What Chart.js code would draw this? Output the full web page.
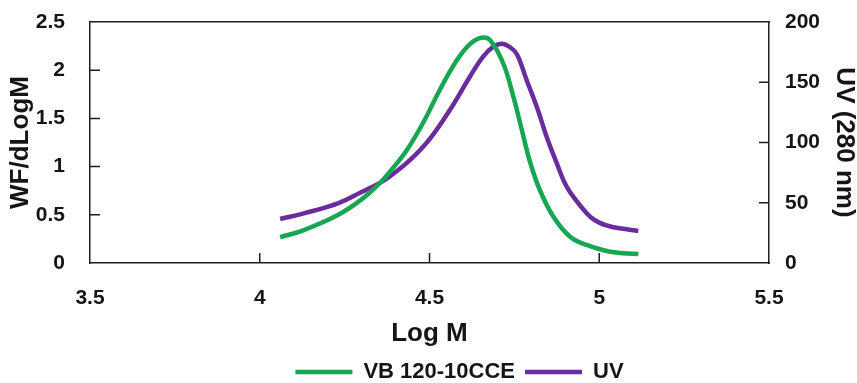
<!DOCTYPE html>
<html>
<head>
<meta charset="utf-8">
<script src="https://cdn.jsdelivr.net/npm/chart.js@4.4.1/dist/chart.umd.min.js"></script>
<style>
  html, body { margin: 0; padding: 0; background: #fff; }
  #wrap { width: 857px; height: 383px; position: relative; }
</style>
</head>
<body>
<div id="wrap"><canvas id="gpc"></canvas></div>
<script>
    // ======== Data ========
    const seriesNames = ['VB 120-10CCE', 'UV'];

    // WF/dLogM curve (left axis)
    const logM_vb = [4.06, 4.13, 4.23, 4.30, 4.354, 4.384, 4.433, 4.482, 4.531, 4.580, 4.619, 4.652,
                     4.678, 4.717, 4.747, 4.772, 4.796, 4.825, 4.865, 4.914, 4.963, 5.032, 5.115];
    const wf_vb   = [0.267, 0.342, 0.498, 0.66, 0.83, 0.95, 1.17, 1.46, 1.80, 2.10, 2.27, 2.337,
                     2.313, 2.072, 1.725, 1.380, 1.05, 0.757, 0.480, 0.273, 0.187, 0.117, 0.093];

    // UV 280 nm curve (right axis)
    const logM_uv = [4.06, 4.13, 4.23, 4.30, 4.354, 4.384, 4.443, 4.501, 4.560, 4.619, 4.658, 4.688,
                     4.713, 4.735, 4.757, 4.786, 4.816, 4.845, 4.875, 4.904, 4.95, 4.975, 5.00, 5.03, 5.06, 5.115];
    const uv_280  = [36.5, 41.2, 49.5, 59, 66.5, 72, 85.5, 103, 127, 154.6, 171.2, 179.5,
                     182, 179.5, 173.5, 151.9, 129.7, 104.8, 82.7, 63.3, 45.5, 38, 33.5, 30.5, 28.8, 26.6];

    // axis ranges [min, max, step]
    const xRange = [3.5, 5.5, 0.5];
    const yLeftRange = [0, 2.5, 0.5];
    const yRightRange = [0, 200, 50];

    // ======== Helpers ========
    const FONT = "'Liberation Sans', Arial, Helvetica, sans-serif";
    const INK = '#151515';
    const AXIS = '#1e1e1e';
    const pts = (xs, ys) => xs.map((x, i) => ({ x: x, y: ys[i] }));
    const fmt = v => String(+v.toFixed(2));
    const tickFont = { family: FONT, size: 21, weight: 'bold', lineHeight: 1 };
    const titleFont = { family: FONT, size: 26, weight: 'bold', lineHeight: 1 };

    // short tick marks pointing into the plot box (Chart.js only draws them outward)
    const innerTicks = {
      id: 'innerTicks',
      afterDraw(chart) {
        const c = chart.ctx, a = chart.chartArea, len = 10;
        c.save();
        c.strokeStyle = AXIS;
        c.lineWidth = 1.5;
        c.beginPath();
        chart.scales.x.ticks.forEach(t => {
          const px = chart.scales.x.getPixelForValue(t.value);
          if (px <= a.left + 1 || px >= a.right - 1) return;
          c.moveTo(px, a.bottom); c.lineTo(px, a.bottom - len);
        });
        chart.scales.y.ticks.forEach(t => {
          const py = chart.scales.y.getPixelForValue(t.value);
          if (py <= a.top + 1 || py >= a.bottom - 1) return;
          c.moveTo(a.left, py); c.lineTo(a.left + len, py);
        });
        chart.scales.y1.ticks.forEach(t => {
          const py = chart.scales.y1.getPixelForValue(t.value);
          if (py <= a.top + 1 || py >= a.bottom - 1) return;
          c.moveTo(a.right, py); c.lineTo(a.right - len, py);
        });
        c.stroke();
        c.restore();
      }
    };

    // push the legend a little right, as in the source figure
    const legendShift = {
      id: 'legendShift',
      afterLayout(chart) {
        chart.legend.left += 31;
        chart.legend.right += 31;
      }
    };

    const ctx = document.getElementById('gpc').getContext('2d');
    const chart = new Chart(ctx, {
      type: 'line',
      data: {
        datasets: [
          {
            label: seriesNames[0],
            data: pts(logM_vb, wf_vb),
            yAxisID: 'y',
            borderColor: '#17a651',
            backgroundColor: '#17a651',
            borderWidth: 4.5,
            pointRadius: 0,
            tension: 0.4,
            fill: false
          },
          {
            label: seriesNames[1],
            data: pts(logM_uv, uv_280),
            yAxisID: 'y1',
            borderColor: '#6a2c9c',
            backgroundColor: '#6a2c9c',
            borderWidth: 4.5,
            pointRadius: 0,
            tension: 0.4,
            fill: false
          }
        ]
      },
      options: {
        responsive: true,
        maintainAspectRatio: false,
        animation: false,
        layout: { padding: { top: 22, left: 0, right: 0, bottom: -10 } },
        plugins: {
          tooltip: { enabled: false },
          legend: {
            position: 'bottom',
            labels: {
              usePointStyle: true,
              pointStyle: 'line',
              pointStyleWidth: 57,
              padding: 10,
              color: INK,
              font: { family: FONT, size: 22, weight: 'bold' }
            }
          }
        },
        scales: {
          x: {
            type: 'linear',
            position: 'bottom',
            min: xRange[0], max: xRange[1],
            ticks: { stepSize: xRange[2], padding: 25, color: INK, font: tickFont, callback: fmt },
            grid: { drawOnChartArea: false, drawTicks: false },
            border: { color: AXIS, width: 1.5 },
            title: {
              display: true, text: 'Log M', color: INK, font: titleFont,
              padding: { top: 0, bottom: 4 }
            },
            afterFit: s => { s.height = 88; s.paddingLeft = 0; s.paddingRight = 0; }
          },
          xTop: {
            type: 'linear',
            position: 'top',
            min: xRange[0], max: xRange[1],
            ticks: { display: false },
            grid: { drawOnChartArea: false, drawTicks: false },
            border: { color: AXIS, width: 1.5 },
            afterFit: s => { s.height = 0; s.paddingLeft = 0; s.paddingRight = 0; }
          },
          y: {
            position: 'left',
            min: yLeftRange[0], max: yLeftRange[1],
            ticks: { stepSize: yLeftRange[2], padding: 25, color: INK, font: tickFont, callback: fmt },
            grid: { drawOnChartArea: false, drawTicks: false },
            border: { color: AXIS, width: 1.5 },
            title: {
              display: true, text: 'WF/dLogM', color: INK, font: titleFont,
              padding: { top: 8, bottom: 0 }
            },
            afterFit: s => { s.width = 90; s.paddingTop = 0; s.paddingBottom = 0; }
          },
          y1: {
            position: 'right',
            min: yRightRange[0], max: yRightRange[1],
            ticks: { stepSize: yRightRange[2], padding: 16, color: INK, font: tickFont, callback: fmt },
            grid: { drawOnChartArea: false, drawTicks: false },
            border: { color: AXIS, width: 1.5 },
            title: {
              display: true, text: 'UV (280 nm)', color: INK, font: titleFont,
              padding: { top: 0, bottom: 0 }
            },
            afterFit: s => { s.width = 88; s.paddingTop = 0; s.paddingBottom = 0; }
          }
        }
      },
      plugins: [innerTicks, legendShift]
    });
</script>
</body>
</html>
